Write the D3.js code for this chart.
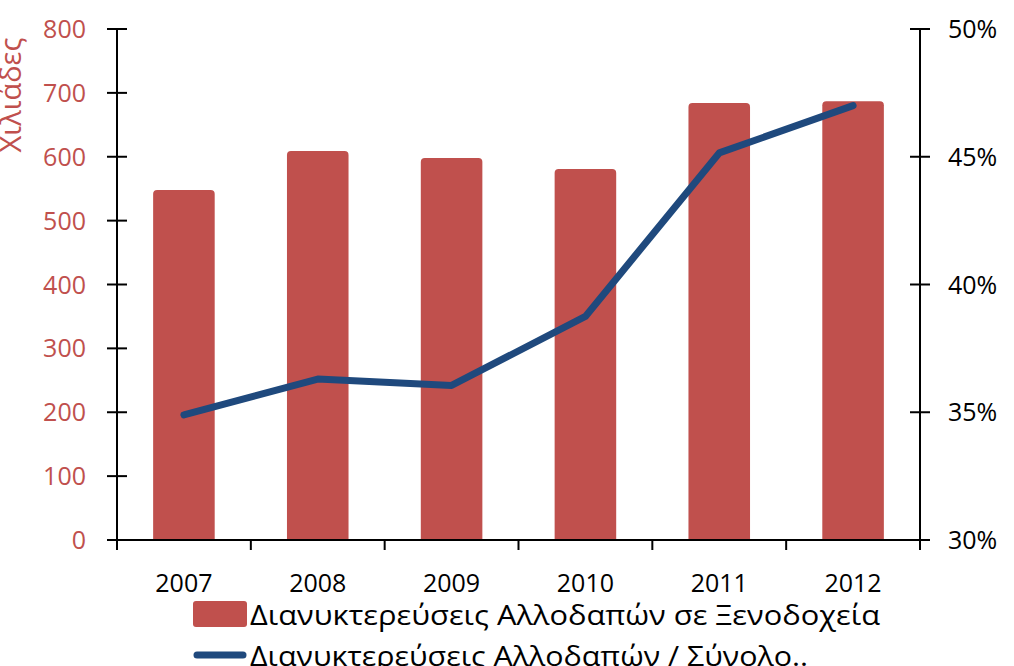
<!DOCTYPE html>
<html>
<head>
<meta charset="utf-8">
<script src="https://cdn.jsdelivr.net/npm/d3@7"></script>
<style>
  body { margin: 0; background: #fff; }
  svg text { font-family: "Open Sans", "Noto Sans", sans-serif; }
</style>
</head>
<body>
<svg id="chart" width="1014" height="666"></svg>
<script>
// chart data
var years = ["2007", "2008", "2009", "2010", "2011", "2012"];
var stays = [548, 609, 598, 581, 684, 687];          // thousands
var share = [34.9, 36.3, 36.05, 38.75, 45.15, 47.0];  // percent
var leftTicks = [0, 100, 200, 300, 400, 500, 600, 700, 800];
var rightTicks = [30, 35, 40, 45, 50];
var barLabel = "Διανυκτερεύσεις Αλλοδαπών σε Ξενοδοχεία";
var lineLabel = "Διανυκτερεύσεις Αλλοδαπών / Σύνολο..";
var yTitle = "Χιλιάδες";

var barColor = "#c0504d";
var lineColor = "#1f497d";
var red = "#c0504d";

var svg = d3.select("#chart");
// plot area edges (not named top/left: window.top is read only)
var pLeft = 117, pRight = 920, pTop = 29, pBottom = 540;

var x = d3.scaleBand().domain(years).range([pLeft, pRight]).paddingInner(0.54).paddingOuter(0.27);
var xb = d3.scaleBand().domain(years).range([pLeft, pRight]);
var y = d3.scaleLinear().domain([0, 800]).range([pBottom, pTop]);
var y2 = d3.scaleLinear().domain([30, 50]).range([pBottom, pTop]);

// bars, top corners slightly rounded
svg.selectAll(".bar").data(stays).enter().append("path")
    .attr("class", "bar")
    .attr("fill", barColor)
    .attr("d", function (d, i) {
        var x0 = x(years[i]), w = x.bandwidth(), y0 = y(d), r = 4;
        return "M" + x0 + "," + pBottom + "V" + (y0 + r) + "Q" + x0 + "," + y0 + " " + (x0 + r) + "," + y0 +
            "H" + (x0 + w - r) + "Q" + (x0 + w) + "," + y0 + " " + (x0 + w) + "," + (y0 + r) + "V" + pBottom + "Z";
    });

// left axis
var gl = svg.append("g");
gl.append("line").attr("x1", pLeft).attr("x2", pLeft).attr("y1", pTop).attr("y2", pBottom + 10)
    .attr("stroke", "#000").attr("stroke-width", 2);
gl.selectAll(".lt").data(leftTicks).enter().append("line")
    .attr("x1", pLeft - 10).attr("x2", pLeft + 10)
    .attr("y1", function (d) { return y(d); }).attr("y2", function (d) { return y(d); })
    .attr("stroke", "#000").attr("stroke-width", 2);
gl.selectAll(".ll").data(leftTicks).enter().append("text")
    .attr("x", 86).attr("y", function (d) { return y(d) + 9; })
    .attr("text-anchor", "end").attr("fill", red).attr("font-size", 25)
    .text(function (d) { return d; });

// y title, rotated and partly cut by the left edge
svg.append("text")
    .attr("transform", "translate(21,95) rotate(-90)")
    .attr("text-anchor", "middle").attr("fill", red).attr("font-size", 29)
    .text(yTitle);

// right axis
var gr = svg.append("g");
gr.append("line").attr("x1", pRight).attr("x2", pRight).attr("y1", pTop).attr("y2", pBottom + 10)
    .attr("stroke", "#000").attr("stroke-width", 2);
gr.selectAll(".rt").data(rightTicks).enter().append("line")
    .attr("x1", pRight - 10).attr("x2", pRight + 10)
    .attr("y1", function (d) { return y2(d); }).attr("y2", function (d) { return y2(d); })
    .attr("stroke", "#000").attr("stroke-width", 2);
gr.selectAll(".rl").data(rightTicks).enter().append("text")
    .attr("x", 948).attr("y", function (d) { return y2(d) + 9; })
    .attr("fill", "#000").attr("font-size", 25)
    .text(function (d) { return d + "%"; });

// x axis
var gx = svg.append("g");
gx.append("line").attr("x1", pLeft - 10).attr("x2", pRight + 10).attr("y1", pBottom).attr("y2", pBottom)
    .attr("stroke", "#000").attr("stroke-width", 2);
var bounds = years.map(function (d) { return xb(d); }).concat([pRight]);
gx.selectAll(".xt").data(bounds).enter().append("line")
    .attr("x1", function (d) { return d; }).attr("x2", function (d) { return d; })
    .attr("y1", pBottom).attr("y2", pBottom + 10)
    .attr("stroke", "#000").attr("stroke-width", 2);
gx.selectAll(".xl").data(years).enter().append("text")
    .attr("x", function (d) { return xb(d) + xb.bandwidth() / 2; }).attr("y", 592)
    .attr("text-anchor", "middle").attr("fill", "#000").attr("font-size", 25)
    .text(function (d) { return d; });

// line
var line = d3.line()
    .x(function (d, i) { return xb(years[i]) + xb.bandwidth() / 2; })
    .y(function (d) { return y2(d); });
svg.append("path").datum(share)
    .attr("d", line).attr("fill", "none")
    .attr("stroke", lineColor).attr("stroke-width", 7)
    .attr("stroke-linecap", "round").attr("stroke-linejoin", "round");

// legend
var lg = svg.append("g");
lg.append("rect").attr("x", 193).attr("y", 601).attr("width", 54).attr("height", 26).attr("rx", 3)
    .attr("fill", barColor);
lg.append("text").attr("x", 250).attr("y", 625).attr("font-size", 27).attr("fill", "#000")
    .attr("textLength", 630).attr("lengthAdjust", "spacingAndGlyphs").text(barLabel);
lg.append("line").attr("x1", 197).attr("x2", 243).attr("y1", 655).attr("y2", 655)
    .attr("stroke", lineColor).attr("stroke-width", 7).attr("stroke-linecap", "round");
lg.append("text").attr("x", 250).attr("y", 666).attr("font-size", 27).attr("fill", "#000")
    .attr("textLength", 558).attr("lengthAdjust", "spacingAndGlyphs").text(lineLabel);
</script>
</body>
</html>
